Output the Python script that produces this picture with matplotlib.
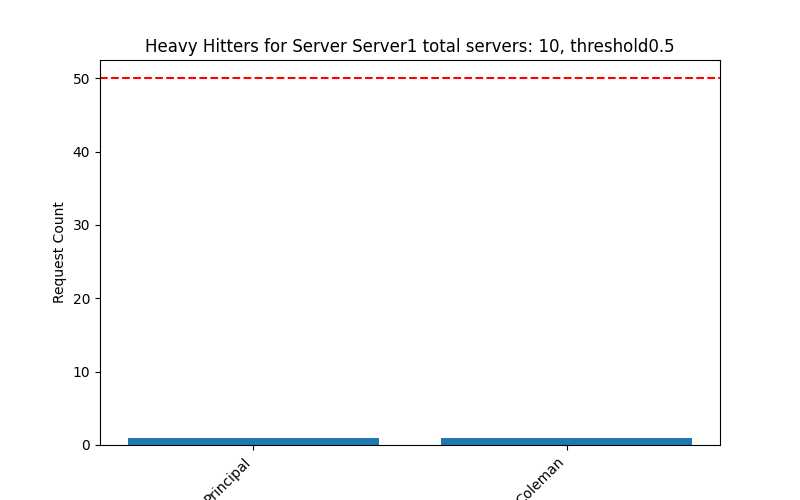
import matplotlib
matplotlib.use("Agg")
import matplotlib.pyplot as plt

# data
clients = ["Principal", "Coleman"]
counts = [1, 1]
threshold_count = 50

server = "Server1"
total_servers = 10
threshold = 0.5

fig, ax = plt.subplots(figsize=(8, 5), dpi=100)
ax.bar(clients, counts)
ax.axhline(y=threshold_count, color="r", linestyle="--")
ax.set_ylabel("Request Count")
ax.set_title(f"Heavy Hitters for Server {server} total servers: {total_servers}, threshold{threshold}")
plt.xticks(rotation=45, ha="right")

fig.savefig("out.png")
